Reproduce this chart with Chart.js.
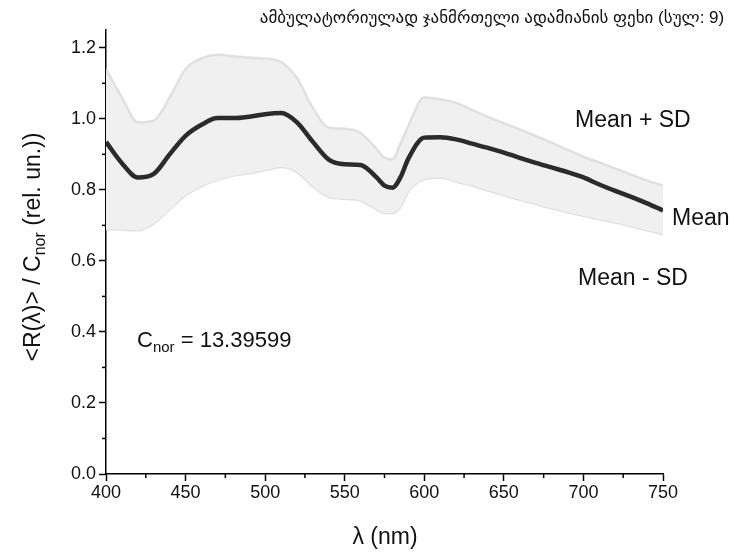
<!DOCTYPE html>
<html>
<head>
<meta charset="utf-8">
<script src="https://cdn.jsdelivr.net/npm/chart.js@4"></script>
<style>
  html, body { margin: 0; padding: 0; background: #fff; }
  #wrap { width: 738px; height: 556px; }
</style>
</head>
<body>
<div id="wrap"><canvas id="spectrum" width="738" height="556"></canvas></div>
<script>
// wavelengths (nm)
const wavelengths = [400, 410, 420, 430, 440, 450, 460, 470, 480, 490, 500, 510, 520, 530, 540, 550, 560, 570, 575, 580, 585, 590, 600, 610, 620, 630, 640, 650, 660, 670, 680, 690, 700, 710, 720, 730, 740, 750];

// mean reflectance / C_nor
const meanValues = [0.935, 0.875, 0.835, 0.845, 0.900, 0.952, 0.983, 1.002, 1.002, 1.006, 1.013, 1.016, 0.990, 0.935, 0.885, 0.872, 0.870, 0.835, 0.812, 0.806, 0.835, 0.888, 0.947, 0.948, 0.942, 0.930, 0.918, 0.905, 0.890, 0.876, 0.863, 0.850, 0.835, 0.815, 0.797, 0.780, 0.762, 0.742];

// mean + SD
const upperValues = [1.14, 1.06, 0.99, 0.995, 1.06, 1.14, 1.17, 1.18, 1.176, 1.172, 1.17, 1.16, 1.115, 1.03, 0.975, 0.972, 0.96, 0.915, 0.89, 0.886, 0.93, 0.98, 1.06, 1.055, 1.045, 1.025, 1.005, 0.988, 0.97, 0.952, 0.933, 0.913, 0.893, 0.877, 0.86, 0.843, 0.826, 0.812];

// mean - SD
const lowerValues = [0.69, 0.688, 0.686, 0.705, 0.745, 0.785, 0.81, 0.828, 0.84, 0.847, 0.855, 0.864, 0.85, 0.81, 0.78, 0.775, 0.77, 0.745, 0.735, 0.735, 0.752, 0.795, 0.83, 0.835, 0.823, 0.812, 0.798, 0.785, 0.772, 0.76, 0.748, 0.737, 0.727, 0.717, 0.708, 0.697, 0.686, 0.675];

const xTicks = [400, 450, 500, 550, 600, 650, 700, 750];
const yTicks = [0.0, 0.2, 0.4, 0.6, 0.8, 1.0, 1.2];
const xMinorTicks = [425, 475, 525, 575, 625, 675, 725];
const yMinorTicks = [0.1, 0.3, 0.5, 0.7, 0.9, 1.1];

const cNor = '13.39599';
const titleText = 'ამბულატორიულად ჯანმრთელი ადამიანის ფეხი (სულ: 9)';

const FONT = '"Liberation Sans", Arial, "DejaVu Sans", sans-serif';

function toPoints(vals) {
    return vals.map((v, i) => ({ x: wavelengths[i], y: v }));
}

// draws minor ticks, labels and titles
const extrasPlugin = {
    id: 'extras',
    afterDraw(chart) {
        const c = chart.ctx;
        const xs = chart.scales.x;
        const ys = chart.scales.y;
        const area = chart.chartArea;

        c.save();
        c.strokeStyle = '#000';
        c.lineWidth = 1.5;
        xMinorTicks.forEach(v => {
            const px = xs.getPixelForValue(v);
            c.beginPath();
            c.moveTo(px, area.bottom);
            c.lineTo(px, area.bottom + 4);
            c.stroke();
        });
        yMinorTicks.forEach(v => {
            const py = ys.getPixelForValue(v);
            c.beginPath();
            c.moveTo(area.left, py);
            c.lineTo(area.left - 4, py);
            c.stroke();
        });

        c.fillStyle = '#111';
        c.textBaseline = 'middle';

        // series labels
        c.font = '23px ' + FONT;
        c.textAlign = 'left';
        c.fillText('Mean + SD', 575, 121);
        c.fillText('Mean', 672, 219);
        c.fillText('Mean - SD', 578, 279);

        // C_nor label
        c.font = '22px ' + FONT;
        c.fillText('C', 137, 341);
        let w = c.measureText('C').width;
        c.font = '15px ' + FONT;
        c.fillText('nor', 137 + w, 348);
        w += c.measureText('nor').width;
        c.font = '22px ' + FONT;
        c.fillText(' = ' + cNor, 137 + w, 341);

        // title
        c.font = '17px ' + FONT;
        c.textAlign = 'center';
        c.fillText(titleText, 492, 18);

        // x axis title
        c.font = '23px ' + FONT;
        c.fillText('λ (nm)', 385, 538);

        // y axis title with subscript
        c.translate(34, 247);
        c.rotate(-Math.PI / 2);
        const parts = [
            ['<R(λ)> / C', '23px ', 0],
            ['nor', '16px ', 7],
            [' (rel. un.))', '23px ', 0]
        ];
        let total = 0;
        parts.forEach(p => { c.font = p[1] + FONT; total += c.measureText(p[0]).width; });
        let pos = -total / 2;
        c.textAlign = 'left';
        parts.forEach(p => {
            c.font = p[1] + FONT;
            c.fillText(p[0], pos, p[2]);
            pos += c.measureText(p[0]).width;
        });
        c.restore();
    }
};

const ctx = document.getElementById('spectrum').getContext('2d');

// mean first so it is painted last, on top of the SD band
const spectrumChart = new Chart(ctx, {
    type: 'line',
    data: {
        datasets: [
            {
                label: 'Mean',
                data: toPoints(meanValues),
                borderColor: '#2b2b2b',
                borderWidth: 4.5,
                fill: false,
                pointRadius: 0,
                cubicInterpolationMode: 'monotone'
            },
            {
                label: 'Mean + SD',
                data: toPoints(upperValues),
                borderColor: '#e0e0e0',
                borderWidth: 2.5,
                backgroundColor: '#f0f0f0',
                fill: '+1',
                pointRadius: 0,
                cubicInterpolationMode: 'monotone'
            },
            {
                label: 'Mean - SD',
                data: toPoints(lowerValues),
                borderColor: '#e0e0e0',
                borderWidth: 2.5,
                fill: false,
                pointRadius: 0,
                cubicInterpolationMode: 'monotone'
            }
        ]
    },
    options: {
        responsive: false,
        animation: false,
        layout: {
            padding: { top: 30, right: 75, left: 0, bottom: 0 }
        },
        plugins: {
            legend: { display: false },
            tooltip: { enabled: false },
            title: { display: false }
        },
        scales: {
            x: {
                type: 'linear',
                min: 400,
                max: 750,
                afterFit: function (scale) { scale.height = 82; },
                afterBuildTicks: function (scale) {
                    scale.ticks = xTicks.map(v => ({ value: v }));
                },
                ticks: {
                    color: '#111',
                    font: { size: 18, family: FONT },
                    padding: 1,
                    maxRotation: 0,
                    callback: v => String(v)
                },
                grid: {
                    drawOnChartArea: false,
                    tickLength: 7,
                    tickWidth: 1.5,
                    color: '#000'
                },
                border: { color: '#000', width: 1.5 }
            },
            y: {
                type: 'linear',
                min: 0,
                max: 1.25,
                afterFit: function (scale) { scale.width = 106; },
                afterBuildTicks: function (scale) {
                    scale.ticks = yTicks.map(v => ({ value: v }));
                },
                ticks: {
                    color: '#111',
                    font: { size: 18, family: FONT },
                    padding: 3,
                    callback: v => v.toFixed(1)
                },
                grid: {
                    drawOnChartArea: false,
                    tickLength: 7,
                    tickWidth: 1.5,
                    color: '#000'
                },
                border: { color: '#000', width: 1.5 }
            }
        }
    },
    plugins: [extrasPlugin]
});
</script>
</body>
</html>
